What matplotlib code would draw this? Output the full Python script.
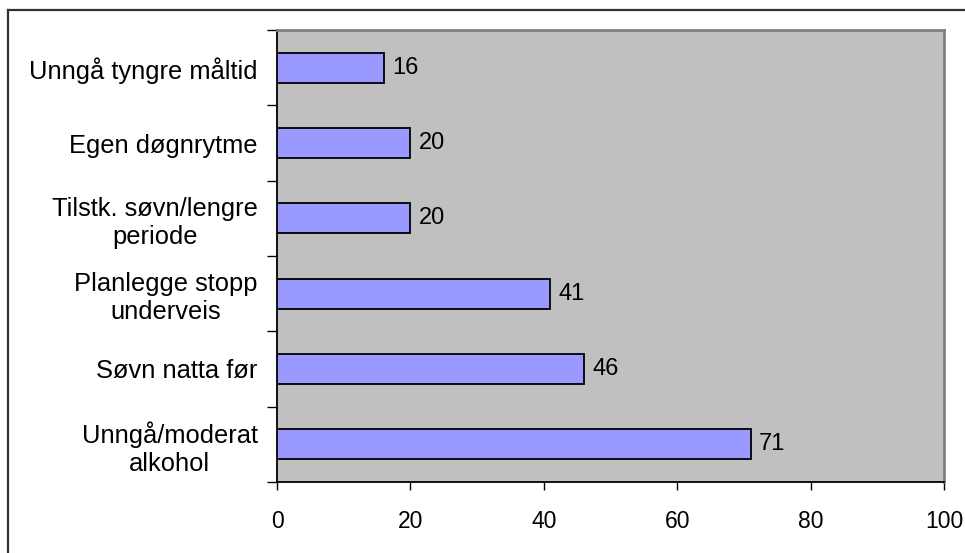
import matplotlib
matplotlib.use("Agg")
import matplotlib.pyplot as plt
from matplotlib.lines import Line2D
import numpy as np

# Measures, listed from bottom to top of the chart
categories = [
    "Unngå/moderat\nalkohol",
    "Søvn natta før",
    "Planlegge stopp\nunderveis",
    "Tilstk. søvn/lengre\nperiode",
    "Egen døgnrytme",
    "Unngå tyngre måltid",
]
values = [71, 46, 41, 20, 20, 16]
x_ticks = [0, 20, 40, 60, 80, 100]

plt.rcParams["font.family"] = ["Liberation Sans", "DejaVu Sans"]

fig = plt.figure(figsize=(9.65, 5.53), dpi=100)
fig.patch.set_facecolor("white")
ax = fig.add_axes([277 / 965, 1 - 482 / 553, (944 - 277) / 965, (482 - 30) / 553])
ax.set_facecolor("#C0C0C0")

y = np.arange(len(categories))
bars = ax.barh(y, values, height=0.4, color="#9999FF", edgecolor="black", linewidth=1.3, zorder=3)

for yi, v in zip(y, values):
    ax.annotate(f"{v}", xy=(v, yi), xytext=(6, 0), textcoords="offset points",
                va="center", ha="left", fontsize=17, color="black", zorder=4)

ax.set_xlim(0, 100)
ax.set_ylim(-0.5, len(categories) - 0.5)
ax.set_xticks(x_ticks)
ax.set_xticklabels([str(t) for t in x_ticks])
ax.tick_params(axis="x", direction="out", length=6, width=1, color="black", labelsize=16.5, pad=14)

# Category labels at centres, tick marks at category boundaries
ax.set_yticks(y)
ax.set_yticklabels(categories, multialignment="center", linespacing=1.22)
ax.set_yticks(np.arange(-0.5, len(categories), 1.0), minor=True)
ax.tick_params(axis="y", which="major", length=0, labelsize=18.4, pad=14)
ax.tick_params(axis="y", which="minor", direction="out", length=7, width=1, color="black")

for side in ("left", "bottom"):
    ax.spines[side].set_color("black")
    ax.spines[side].set_linewidth(1.3)
for side in ("top", "right"):
    ax.spines[side].set_color("#808080")
    ax.spines[side].set_linewidth(2)

# Outer frame of the chart object
fig.add_artist(Line2D([8 / 965, 1.0], [1 - 10 / 553, 1 - 10 / 553], transform=fig.transFigure,
                      color="#333333", linewidth=1.6))
fig.add_artist(Line2D([8 / 965, 8 / 965], [0.0, 1 - 10 / 553], transform=fig.transFigure,
                      color="#333333", linewidth=1.6))

fig.savefig("out.png", dpi=100, facecolor="white")
